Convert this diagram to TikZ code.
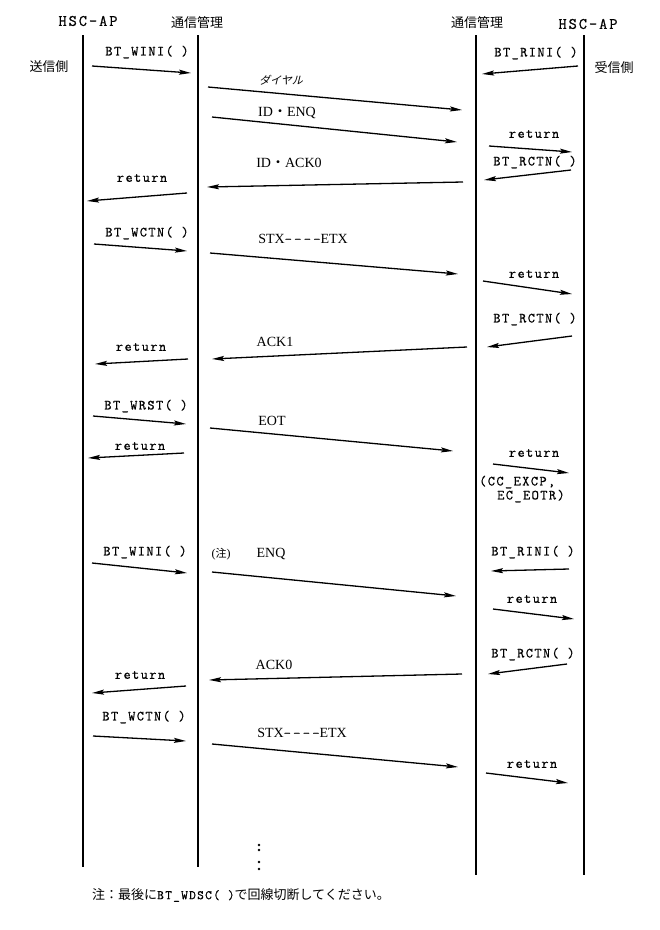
\documentclass[tikz,border=0pt]{standalone}
\usepackage{fontspec}
\setmainfont{Liberation Serif}
\newfontfamily\jp{Noto Sans CJK JP}
\newfontfamily\jpsl[FakeSlant=0.25]{Noto Sans CJK JP}
\newfontfamily\mono[LetterSpace=10,FakeBold=0.6]{Latin Modern Mono}
\newfontfamily\monoh[LetterSpace=12,FakeBold=0.6]{Latin Modern Mono}
\usetikzlibrary{arrows.meta}
\tikzset{
  lifeline/.style={line width=1.6pt},
  msgarrow/.style={line width=1.3pt,-{Stealth[length=12pt,width=5pt,inset=2pt]}},
  lbl/.style={inner sep=0pt,font=\mono\fontsize{14}{16}\selectfont},
  sfl/.style={inner sep=0pt,font=\fontsize{14}{16}\selectfont},
  hdr/.style={inner sep=0pt,font=\jp\fontsize{13}{15}\selectfont},
  hdrm/.style={inner sep=0pt,font=\monoh\fontsize{16}{18}\selectfont}
}
\newcommand\msgline[5]{%
  \coordinate (#1s) at (#2,#3);
  \coordinate (#1e) at (#4,#5);
  \draw[msgarrow] (#1s) -- (#1e);}
\begin{document}
\begin{tikzpicture}[x=1pt,y=-1pt]
\useasboundingbox (0,0) rectangle (660,930);
% lifelines
\coordinate (L1t) at (83,35);  \coordinate (L1b) at (83,867);
\coordinate (L2t) at (198,35); \coordinate (L2b) at (198,867);
\coordinate (L3t) at (476,35); \coordinate (L3b) at (476,875);
\coordinate (L4t) at (584,35); \coordinate (L4b) at (584,875);
\foreach \i in {1,2,3,4} \draw[lifeline] (L\i t) -- (L\i b);
% headers
\node[hdrm] (h1) at (88,21) {HSC-AP};
\node[hdr]  (h2) at (197,23) {通信管理};
\node[hdr]  (h3) at (477,23) {通信管理};
\node[hdrm] (h4) at (588,24) {HSC-AP};
\node[hdr]  (s1) at (49,67) {送信側};
\node[hdr]  (s2) at (614,68) {受信側};
% messages
\node[lbl] (m1) at (147,52) {BT\_WINI( )};
\msgline{a1}{92}{66}{191}{73}
\node[lbl] (m2) at (536,53) {BT\_RINI( )};
\msgline{a2}{578}{66}{482}{74}
\node[inner sep=0pt,font=\jpsl\fontsize{11}{13}\selectfont] (m3) at (281,80) {ダイヤル};
\msgline{a3}{208}{87}{462}{110}
\node[sfl] (m4) at (287,113) {ID{\jp ・}ENQ};
\msgline{a4}{212}{117}{457}{142}
\node[lbl] (m5) at (534,134) {return};
\msgline{a5}{489}{146}{572}{152}
\node[lbl] (m6) at (535,162) {BT\_RCTN( )};
\msgline{a6}{571}{170}{484}{180}
\node[sfl] (m7) at (289,163) {ID{\jp ・}ACK0};
\msgline{a7}{463}{182}{207}{187}
\node[lbl] (m8) at (142,178) {return};
\msgline{a8}{187}{193}{87}{201}
\node[lbl] (m9) at (147,233) {BT\_WCTN( )};
\msgline{a9}{94}{244}{187}{251}
\node[sfl] (m10) at (303,239) {STX{\mono -\,-\,-\,-}ETX};
\msgline{a10}{210}{253}{458}{274}
\node[lbl] (m11) at (534,274) {return};
\msgline{a11}{483}{281}{572}{294}
\node[lbl] (m12) at (535,319) {BT\_RCTN( )};
\msgline{a12}{572}{336}{487}{347}
\node[sfl] (m13) at (275,342) {ACK1};
\msgline{a13}{467}{347}{212}{359}
\node[lbl] (m14) at (141,347) {return};
\msgline{a14}{188}{359}{95}{364}
\node[lbl] (m15) at (146,406) {BT\_WRST( )};
\msgline{a15}{93}{416}{186}{424}
\node[sfl] (m16) at (272,421) {EOT};
\msgline{a16}{210}{428}{453}{451}
\node[lbl] (m17) at (140,446) {return};
\msgline{a17}{184}{453}{88}{458}
\node[lbl] (m18) at (534,453) {return};
\msgline{a18}{493}{464}{569}{473}
\node[lbl,anchor=west] (m18a) at (479,482) {(CC\_EXCP,};
\node[lbl,anchor=west] (m18b) at (497,496) {EC\_EOTR)};
\node[lbl] (m19) at (145,552) {BT\_WINI( )};
\msgline{a19}{92}{563}{187}{573}
\node[inner sep=0pt,font=\fontsize{12}{14}\selectfont] (m20a) at (221,554) {({\jp\fontsize{11}{13}\selectfont 注})};
\node[sfl] (m20) at (271,554) {ENQ};
\msgline{a20}{212}{572}{456}{596}
\node[lbl] (m21) at (533,552) {BT\_RINI( )};
\msgline{a21}{569}{569}{491}{571}
\node[lbl] (m22) at (532,599) {return};
\msgline{a22}{493}{609}{574}{619}
\node[lbl] (m23) at (533,654) {BT\_RCTN( )};
\msgline{a23}{567}{664}{488}{674}
\node[sfl] (m24) at (274,665) {ACK0};
\msgline{a24}{462}{674}{209}{680}
\node[lbl] (m25) at (140,675) {return};
\msgline{a25}{186}{686}{92}{693}
\node[lbl] (m26) at (144,717) {BT\_WCTN( )};
\msgline{a26}{93}{736}{186}{741}
\node[sfl] (m27) at (302,733) {STX{\mono -\,-\,-\,-}ETX};
\msgline{a27}{212}{744}{458}{767}
\node[lbl] (m28) at (532,764) {return};
\msgline{a28}{486}{773}{568}{783}
% continuation dots
\foreach \yy in {845,850,862,869} \fill (259,\yy) circle (1.3pt);
% note
\node[inner sep=0pt,anchor=west,font=\jp\fontsize{13}{15}\selectfont] (note) at (92,895)
  {注：最後に{\mono\fontsize{13}{15}\selectfont BT\_WDSC( )}で回線切断してください。};
\end{tikzpicture}
\end{document}
